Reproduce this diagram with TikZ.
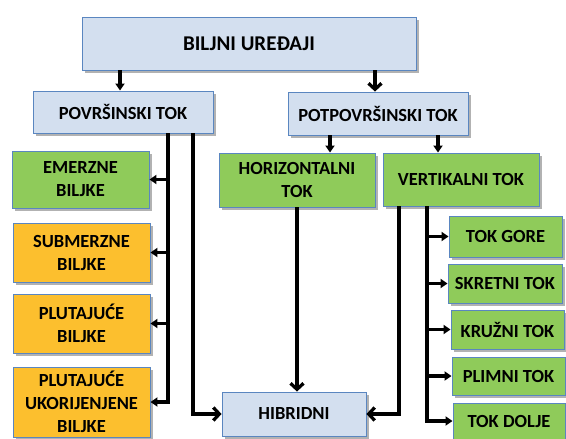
\documentclass[tikz,border=0pt]{standalone}
\usepackage{fontspec}
\setmainfont{Carlito}
\usetikzlibrary{arrows.meta,shadows}
\definecolor{bfill}{HTML}{D3DFEF}
\definecolor{bdraw}{HTML}{5A86C0}
\definecolor{gfill}{HTML}{8FCB5A}
\definecolor{ofill}{HTML}{FCBF2E}
\tikzset{
  box/.style={draw=bdraw, line width=0.9pt, inner sep=0pt, align=center,
    font=\bfseries\fontsize{18.5}{23}\selectfont,
    drop shadow={shadow xshift=2.5pt, shadow yshift=-2.5pt, fill=black, opacity=0.3}},
  bluebox/.style={box, fill=bfill},
  greenbox/.style={box, fill=gfill},
  orangebox/.style={box, fill=ofill},
  bigtext/.style={font=\bfseries\fontsize{21}{25}\selectfont},
  ln/.style={line width=3.3pt, line join=miter},
  tri/.style={ln, -{Triangle[length=7pt,width=9pt]}},
  barb/.style={ln, -{Straight Barb[length=6pt,width=13pt,line width=3.3pt]}}
}
\newcommand{\bx}[7]{\node[#1, minimum width=#4pt-#3pt, minimum height=#6pt-#5pt] (#2) at ({(#3+#4)/2},{(#5+#6)/2}) {#7};}
\begin{document}
\begin{tikzpicture}[x=1pt,y=-1pt]
\useasboundingbox (0,0) rectangle (566,439);
\bx{bluebox,bigtext}{root}{82}{416}{17}{70}{BILJNI UREĐAJI}
\bx{bluebox}{pov}{33}{213}{91}{133}{POVRŠINSKI TOK}
\bx{bluebox}{pot}{288}{468}{92}{135}{POTPOVRŠINSKI TOK}
\bx{greenbox}{em}{12}{149}{151}{208}{EMERZNE\\BILJKE}
\bx{orangebox}{sub}{13}{150}{223}{282}{SUBMERZNE\\BILJKE}
\bx{orangebox}{plu}{13}{150}{294}{353}{PLUTAJUĆE\\BILJKE}
\bx{orangebox}{uk}{13}{150}{367}{437}{PLUTAJUĆE\\UKORIJENJENE\\BILJKE}
\bx{greenbox}{hor}{219}{375}{153}{207}{HORIZONTALNI\\TOK}
\bx{greenbox}{ver}{383}{539}{153}{206}{VERTIKALNI TOK}
\bx{bluebox}{hib}{222}{366}{392}{436}{HIBRIDNI}
\bx{greenbox}{gore}{449}{562}{216}{257}{TOK GORE}
\bx{greenbox}{skr}{448}{562}{264}{303}{SKRETNI TOK}
\bx{greenbox}{kru}{451}{564}{310}{349}{KRUŽNI TOK}
\bx{greenbox}{pli}{452}{565}{357}{395}{PLIMNI TOK}
\bx{greenbox}{dol}{453}{565}{403}{439}{TOK DOLJE}
\coordinate (a1) at (120,0);
\coordinate (a2) at (375,0);
\coordinate (a3) at (330,0);
\coordinate (a4) at (438,0);
\coordinate (l1) at (168,0);
\coordinate (l2) at (193,0);
\coordinate (r1) at (399,0);
\coordinate (r2) at (427,0);
\draw[tri] (root.south -| a1) -- (pov.north -| a1);
\draw[barb] (root.south -| a2) -- (pot.north -| a2);
\draw[tri] (pot.south -| a3) -- (hor.north -| a3);
\draw[tri] (pot.south -| a4) -- (ver.north -| a4);
\draw[tri] (pov.south -| l1) |- (uk.east);
\draw[tri] (em.east -| l1) -- (em.east);
\draw[tri] (sub.east -| l1) -- (sub.east);
\draw[tri] (plu.east -| l1) -- (plu.east);
\draw[barb] (pov.south -| l2) |- (hib.west);
\draw[barb] (hor.south) -- (hor.south |- hib.north);
\draw[barb] (ver.south -| r1) |- (hib.east);
\draw[tri] (ver.south -| r2) |- (dol.west);
\draw[tri] (gore.west -| r2) -- (gore.west);
\draw[tri] (skr.west -| r2) -- (skr.west);
\draw[tri] (kru.west -| r2) -- (kru.west);
\draw[tri] (pli.west -| r2) -- (pli.west);
\end{tikzpicture}
\end{document}
